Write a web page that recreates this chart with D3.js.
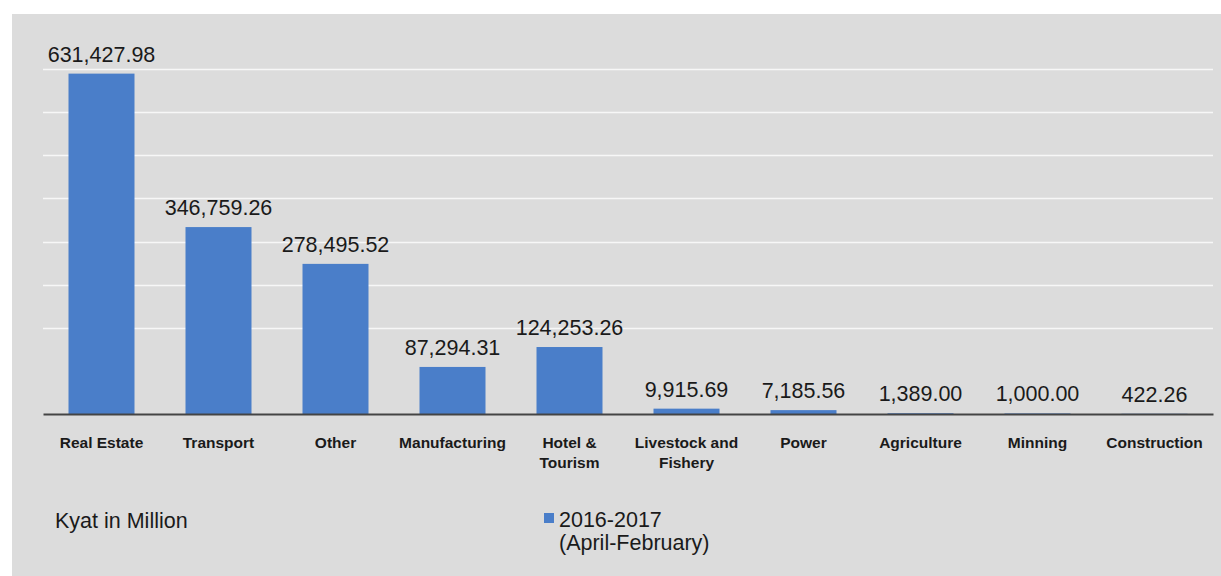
<!DOCTYPE html>
<html>
<head>
<meta charset="utf-8">
<script src="https://cdn.jsdelivr.net/npm/d3@7"></script>
<style>
  html, body { margin: 0; padding: 0; background: #ffffff; }
  svg { display: block; }
</style>
</head>
<body>
<svg id="chart" width="1221" height="576"></svg>
<script>
// ---- data ----
const categories = ["Real Estate", "Transport", "Other", "Manufacturing", "Hotel &\nTourism",
  "Livestock and\nFishery", "Power", "Agriculture", "Minning", "Construction"];
const values = [631427.98, 346759.26, 278495.52, 87294.31, 124253.26, 9915.69, 7185.56, 1389.00, 1000.00, 422.26];
const gridTicks = [160000, 240000, 320000, 400000, 480000, 560000, 640000];
const seriesName = ["2016-2017", "(April-February)"];
const unitLabel = "Kyat in Million";

// ---- layout ----
const W = 1221, H = 576;
const svg = d3.select("#chart");
const font = "'Liberation Sans', Arial, sans-serif";

svg.append("rect").attr("x", 12).attr("y", 14).attr("width", W - 12).attr("height", H - 14)
  .attr("fill", "#dcdcdc");

const x = d3.scaleBand().domain(categories).range([43, 1213]).paddingInner(0.436).paddingOuter(0.218);
const y = d3.scaleLinear().domain([0, 640000]).range([414, 69]);

// gridlines
svg.append("g").selectAll("line").data(gridTicks).join("line")
  .attr("x1", 43).attr("x2", 1213)
  .attr("y1", d => Math.round(y(d)) + 0.5).attr("y2", d => Math.round(y(d)) + 0.5)
  .attr("stroke", "#f7f7f7").attr("stroke-width", 1.6);

// bars
svg.append("g").selectAll("rect").data(values).join("rect")
  .attr("x", (d, i) => x(categories[i]))
  .attr("width", x.bandwidth())
  .attr("y", d => y(d))
  .attr("height", d => y(0) - y(d))
  .attr("fill", "#4a7ec9");

// baseline axis
const xAxis = d3.axisBottom(x).tickSize(0).tickFormat("");
const ax = svg.append("g").attr("transform", `translate(0,${y(0)})`).call(xAxis);
ax.select(".domain").attr("stroke", "#444444").attr("stroke-width", 2);

// category labels
const catG = svg.append("g");
categories.forEach(c => {
  const lines = c.split("\n");
  const t = catG.append("text")
    .attr("x", x(c) + x.bandwidth() / 2)
    .attr("y", 448)
    .attr("text-anchor", "middle")
    .attr("font-family", font).attr("font-weight", "bold").attr("font-size", 15.5)
    .attr("fill", "#1a1a1a");
  lines.forEach((l, j) => t.append("tspan").attr("x", x(c) + x.bandwidth() / 2).attr("dy", j === 0 ? 0 : 20).text(l));
});

// value labels
const fmt = d3.format(",.2f");
svg.append("g").selectAll("text").data(values).join("text")
  .attr("x", (d, i) => x(categories[i]) + x.bandwidth() / 2)
  .attr("y", d => y(d) - 12)
  .attr("text-anchor", "middle")
  .attr("font-family", font).attr("font-size", 21.5)
  .attr("fill", "#1a1a1a")
  .text(d => fmt(d));

// unit label
svg.append("text").attr("x", 55).attr("y", 528)
  .attr("font-family", font).attr("font-size", 21.5).attr("fill", "#1a1a1a")
  .text(unitLabel);

// legend
svg.append("rect").attr("x", 544).attr("y", 513).attr("width", 10).attr("height", 10).attr("fill", "#4a7ec9");
const lg = svg.append("text").attr("x", 559).attr("y", 527)
  .attr("font-family", font).attr("font-size", 21.5).attr("fill", "#1a1a1a");
seriesName.forEach((s, j) => lg.append("tspan").attr("x", 559).attr("dy", j === 0 ? 0 : 23).text(s));
</script>
</body>
</html>
